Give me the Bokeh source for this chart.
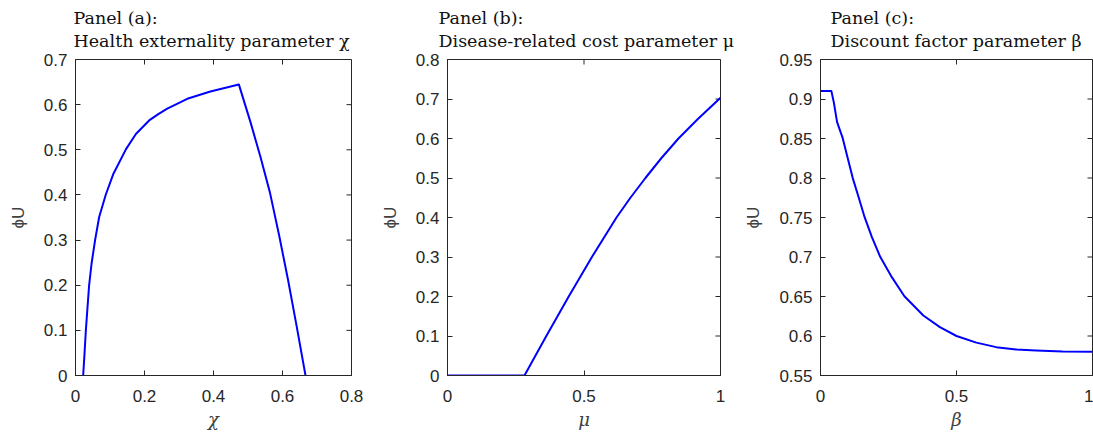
import math
from bokeh.plotting import figure
from bokeh.layouts import row
from bokeh.models import Range1d, LinearAxis, FixedTicker, CustomJSTickFormatter
from bokeh.embed import file_html
from bokeh.resources import INLINE

# ---- data ----
chi = [0.0222, 0.0261, 0.0300, 0.0348, 0.0396, 0.0464, 0.0570, 0.0686, 0.0879, 0.110,
       0.146, 0.175, 0.2135, 0.240, 0.266, 0.324, 0.391, 0.4734,
       0.5072, 0.5362, 0.5633, 0.5903, 0.6164, 0.6415, 0.6667]
phi_chi = [0.0, 0.048, 0.0997, 0.151, 0.201, 0.247, 0.301, 0.351, 0.401, 0.447,
           0.501, 0.535, 0.565, 0.579, 0.591, 0.613, 0.629, 0.6448,
           0.5613, 0.4838, 0.4062, 0.3102, 0.2105, 0.1071, 0.0]

mu = [0.0, 0.282, 0.362, 0.444, 0.529, 0.619, 0.670, 0.725, 0.783, 0.846, 0.918, 1.0]
phi_mu = [0.0, 0.0, 0.100, 0.200, 0.300, 0.400, 0.450, 0.500, 0.550, 0.600, 0.650, 0.703]

beta = [0.0, 0.040, 0.0488, 0.061, 0.0817, 0.0976, 0.1183, 0.1402, 0.1622, 0.189, 0.2195,
        0.2622, 0.3085, 0.378, 0.439, 0.500, 0.573, 0.646, 0.7195, 0.7927, 0.890, 1.0]
phi_beta = [0.910, 0.910, 0.896, 0.8707, 0.8504, 0.8285, 0.8002, 0.7757, 0.7504, 0.7251, 0.7002,
            0.6745, 0.6504, 0.626, 0.6112, 0.600, 0.5916, 0.5859, 0.583, 0.5817, 0.5805, 0.580]

xticks_a = [0, 0.2, 0.4, 0.6, 0.8]
yticks_a = [0, 0.1, 0.2, 0.3, 0.4, 0.5, 0.6, 0.7]
xticks_b = [0, 0.5, 1]
yticks_b = [0, 0.1, 0.2, 0.3, 0.4, 0.5, 0.6, 0.7, 0.8]
xticks_c = [0, 0.5, 1]
yticks_c = [0.55, 0.6, 0.65, 0.7, 0.75, 0.8, 0.85, 0.9, 0.95]

titles1 = ["Panel (a):", "Panel (b):", "Panel (c):"]
titles2 = ["Health externality parameter \u03c7", "Disease-related cost parameter \u03bc",
           "Discount factor parameter \u03b2"]
xlabels = ["\u03c7", "\u03bc", "\u03b2"]
ylabel = "\u03d5U"

AX = "#262626"
SERIF = "DejaVu Serif"
SANS = "Liberation Sans"
fmt_code = "return String(parseFloat(tick.toFixed(4)))"


def make_panel(xs, ys, xr, yr, xt, yt, t1, t2, xl, width, bl, br, t_off):
    p = figure(width=width, height=436, x_range=Range1d(*xr), y_range=Range1d(*yr),
               output_backend="svg", toolbar_location=None,
               min_border_left=bl, min_border_right=br, min_border_top=59,
               min_border_bottom=61, x_axis_location=None, y_axis_location=None)
    p.outline_line_color = AX
    p.outline_line_width = 1
    p.grid.visible = False
    p.background_fill_color = "white"
    p.border_fill_color = "white"

    def axis(ticks, label):
        a = LinearAxis(ticker=FixedTicker(ticks=ticks),
                       formatter=CustomJSTickFormatter(code=fmt_code))
        a.axis_line_color = AX
        a.major_tick_line_color = AX
        a.major_tick_in = 5
        a.major_tick_out = 0
        a.minor_tick_line_color = None
        a.major_label_text_color = AX
        a.major_label_text_font = SANS
        a.major_label_text_font_size = "17px"
        a.axis_label = label
        a.axis_label_text_color = "#404040"
        return a

    bx = axis(xt, xl)
    bx.major_label_standoff = 14
    bx.axis_label_standoff = 4
    bx.axis_label_text_font = SERIF
    bx.axis_label_text_font_style = "italic"
    bx.axis_label_text_font_size = "18px"
    ly = axis(yt, ylabel)
    ly.major_label_standoff = 8
    ly.axis_label_standoff = 13
    ly.axis_label_text_font = SANS
    ly.axis_label_text_font_style = "normal"
    ly.axis_label_text_font_size = "17px"
    p.add_layout(bx, "below")
    p.add_layout(ly, "left")

    # inward tick marks on the top and right frame edges
    p.ray(x=xt, y=[yr[1]] * len(xt), length=5, length_units="screen",
          angle=-math.pi / 2, line_color=AX, line_width=1)
    p.ray(x=[xr[1]] * len(yt), y=yt, length=5, length_units="screen",
          angle=math.pi, line_color=AX, line_width=1)

    p.title.text = t1 + "\n" + t2
    p.title.align = "left"
    p.title.offset = t_off
    p.title.text_font = SERIF
    p.title.text_font_size = "17.5px"
    p.title.text_font_style = "normal"
    p.title.text_color = "#111111"
    p.title.text_line_height = 1.15
    p.title.standoff = 8
    if "padding" in p.title.properties():
        p.title.padding = dict(left=0, right=0, top=0, bottom=5)

    p.line(xs, ys, line_color="#0000ff", line_width=2, line_join="round")
    return p


pa = make_panel(chi, phi_chi, (0, 0.8), (0, 0.7), xticks_a, yticks_a,
                titles1[0], titles2[0], xlabels[0], 371, 75, 20, -2)
pb = make_panel(mu, phi_mu, (0, 1), (0, 0.8), xticks_b, yticks_b,
                titles1[1], titles2[1], xlabels[1], 369, 76, 20, -9)
pc = make_panel(beta, phi_beta, (0, 1), (0.55, 0.95), xticks_c, yticks_c,
                titles1[2], titles2[2], xlabels[2], 353, 80, 1, 10)

layout = row(pa, pb, pc)
open("out.html", "w").write(file_html(layout, INLINE))
